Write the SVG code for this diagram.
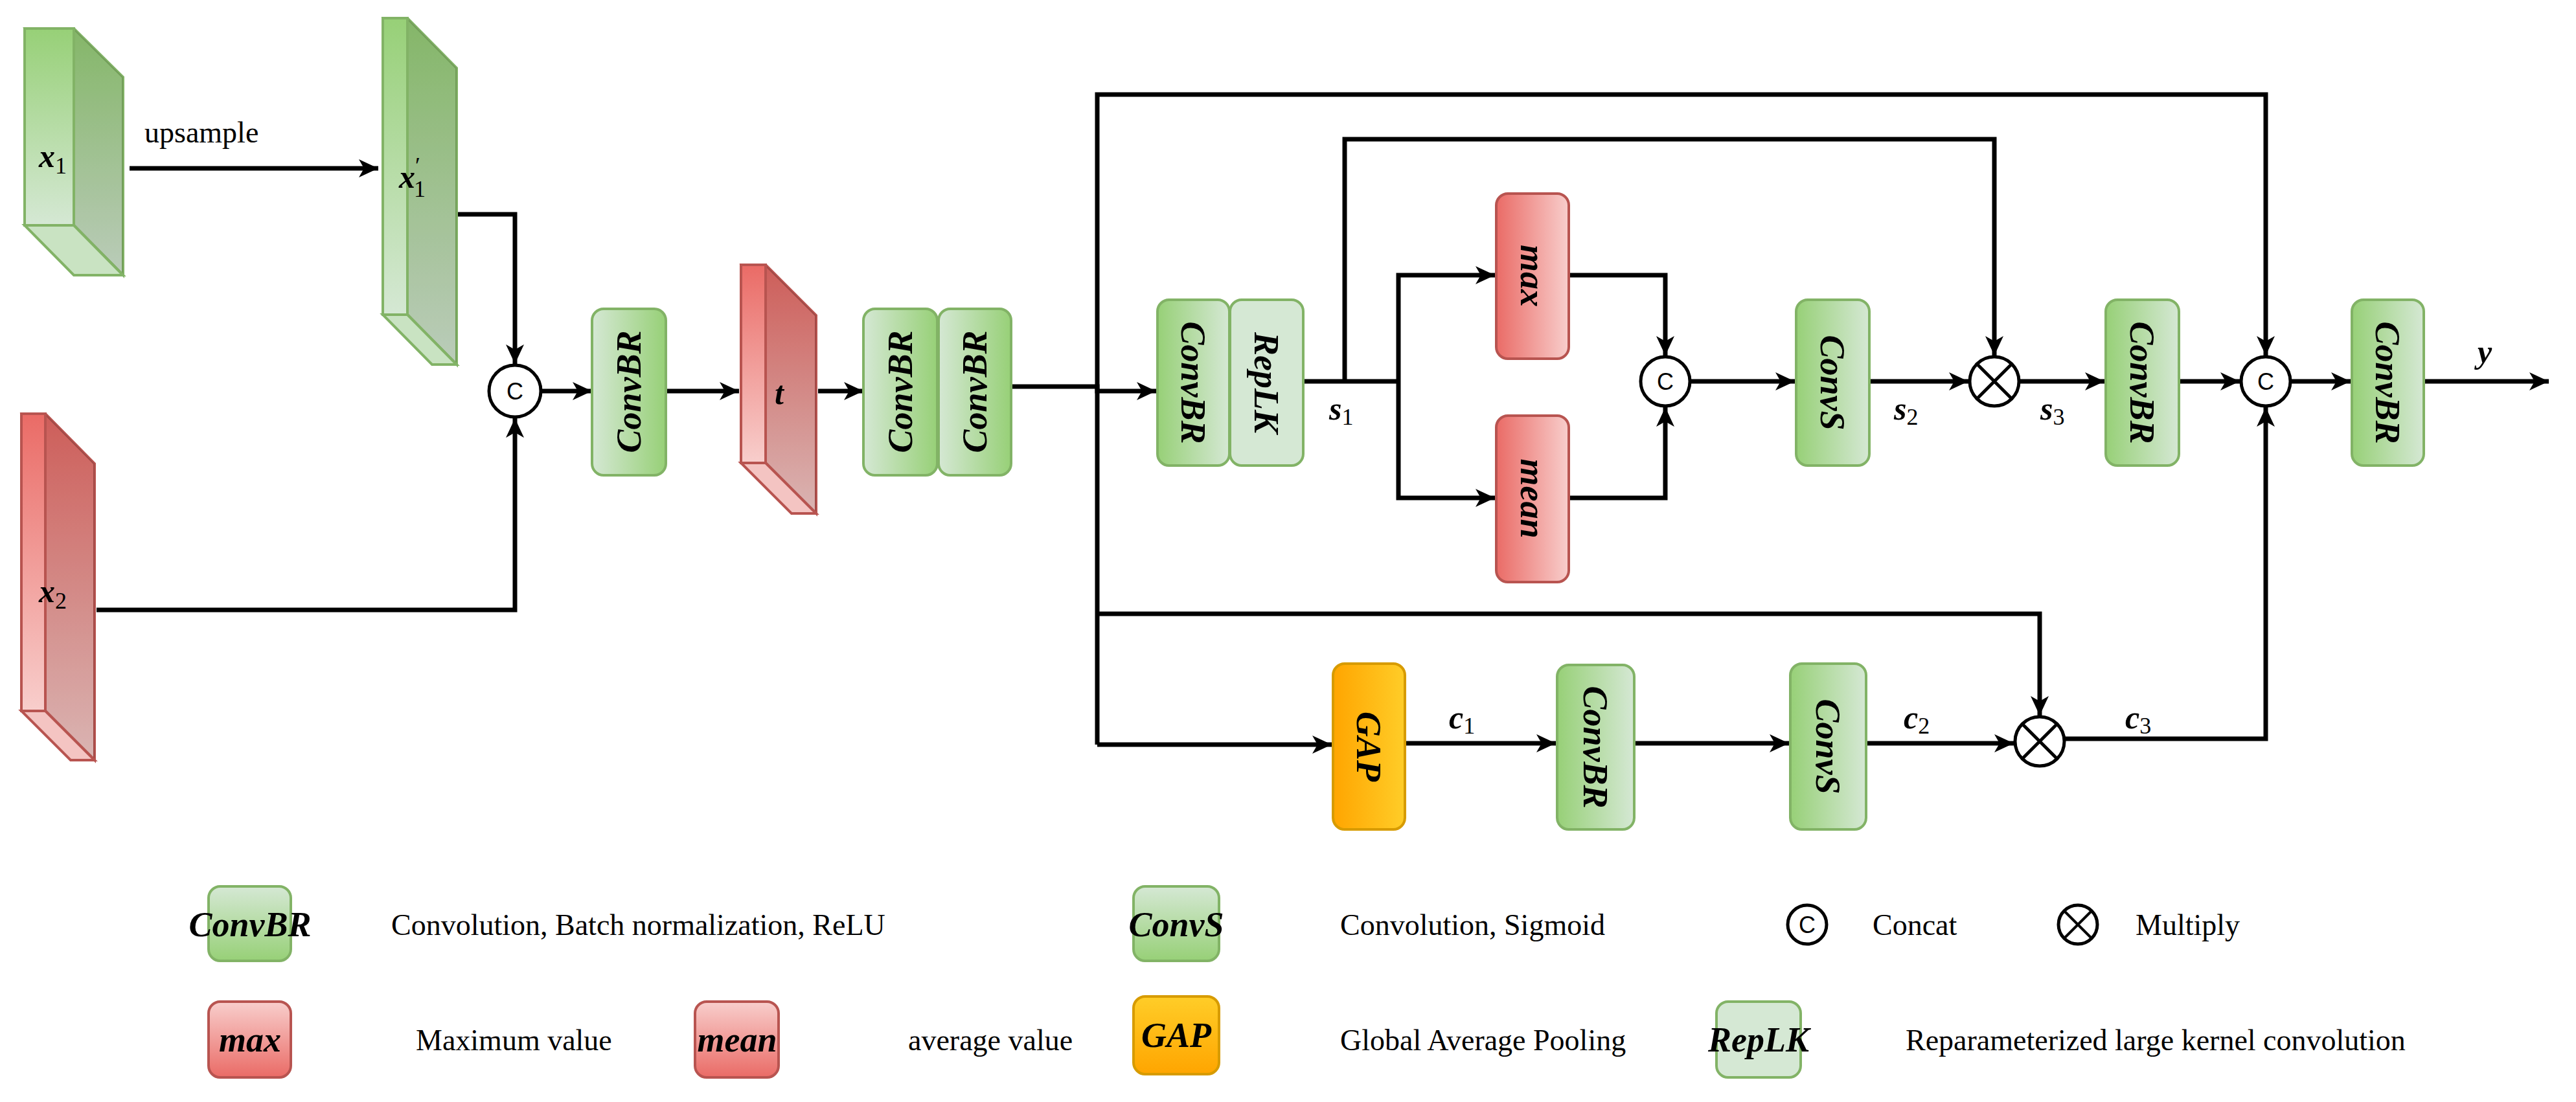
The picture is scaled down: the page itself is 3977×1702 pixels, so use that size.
<svg xmlns="http://www.w3.org/2000/svg" width="3977" height="1702" viewBox="0 0 3977 1702">
<defs>
<linearGradient id="gH1" x1="0" y1="0" x2="1" y2="0"><stop offset="0" stop-color="#d5e8d4"/><stop offset="1" stop-color="#97d077"/></linearGradient>
<linearGradient id="gH2" x1="0" y1="0" x2="1" y2="0"><stop offset="0" stop-color="#97d077"/><stop offset="1" stop-color="#d5e8d4"/></linearGradient>
<linearGradient id="gV" x1="0" y1="0" x2="0" y2="1"><stop offset="0" stop-color="#d5e8d4"/><stop offset="1" stop-color="#97d077"/></linearGradient>
<linearGradient id="rH" x1="0" y1="0" x2="1" y2="0"><stop offset="0" stop-color="#ea6b66"/><stop offset="1" stop-color="#f8cecc"/></linearGradient>
<linearGradient id="rV" x1="0" y1="0" x2="0" y2="1"><stop offset="0" stop-color="#f8cecc"/><stop offset="1" stop-color="#ea6b66"/></linearGradient>
<linearGradient id="oH" x1="0" y1="0" x2="1" y2="0"><stop offset="0" stop-color="#ffa500"/><stop offset="1" stop-color="#ffcd28"/></linearGradient>
<linearGradient id="oV" x1="0" y1="0" x2="0" y2="1"><stop offset="0" stop-color="#ffcd28"/><stop offset="1" stop-color="#ffa500"/></linearGradient>
<linearGradient id="pg" x1="0" y1="0" x2="0" y2="1"><stop offset="0" stop-color="#97d077"/><stop offset="1" stop-color="#d5e8d4"/></linearGradient>
<linearGradient id="pr" x1="0" y1="0" x2="0" y2="1"><stop offset="0" stop-color="#ea6b66"/><stop offset="1" stop-color="#f8cecc"/></linearGradient>
<marker id="ar" markerUnits="userSpaceOnUse" markerWidth="32" markerHeight="28" refX="30" refY="14" orient="auto"><path d="M0,0 L30,14 L0,28 L8,14 Z" fill="#000"/></marker>
</defs>
<style>
.g{stroke:#82b366;stroke-width:4}
.r{stroke:#b85450;stroke-width:4}
.o{stroke:#d79b00;stroke-width:4}
.ln{fill:none;stroke:#000;stroke-width:7}
.ar{marker-end:url(#ar)}
.m{font-family:"Liberation Serif",serif;font-style:italic;font-weight:bold;font-size:54px;fill:#000}
.lbl{font-family:"Liberation Serif",serif;font-style:italic;font-weight:bold;font-size:50px;fill:#000}
.t{font-family:"Liberation Serif",serif;font-size:46px;fill:#000}
.cc{fill:#fff;stroke:#000;stroke-width:5}
.ct{font-family:"Liberation Sans",sans-serif;font-size:36px;fill:#000}
.dk{fill:#000;opacity:0.12}
</style>

<g id="x1"><path d="M38,44 L114,44 L190,119 L190,425 L114,348 Z" fill="url(#pg)" class="g"/><path d="M114,44 L190,119 L190,425 L114,348 Z" class="dk"/><path d="M38,348 L114,348 L190,425 L114,425 Z" fill="#c9e3c2" class="g"/><rect x="38" y="44" width="76" height="304" fill="url(#pg)" class="g"/><text class="lbl" x="60" y="258">x<tspan font-size="36" font-style="normal" font-weight="normal" dy="10">1</tspan></text></g>
<g id="x1p"><path d="M591,28 L629,28 L705,105 L705,563 L629,486 Z" fill="url(#pg)" class="g"/><path d="M629,28 L705,105 L705,563 L629,486 Z" class="dk"/><path d="M591,486 L629,486 L705,563 L667,563 Z" fill="#c9e3c2" class="g"/><rect x="591" y="28" width="38" height="458" fill="url(#pg)" class="g"/><text class="lbl" x="616" y="290">x<tspan font-size="36" font-style="normal" font-weight="normal" dy="-22">′</tspan><tspan font-size="36" font-style="normal" font-weight="normal" dx="-10" dy="36">1</tspan></text></g>
<g id="x2"><path d="M33,639 L70,639 L146,716 L146,1174 L70,1098 Z" fill="url(#pr)" class="r"/><path d="M70,639 L146,716 L146,1174 L70,1098 Z" class="dk"/><path d="M33,1098 L70,1098 L146,1174 L109,1174 Z" fill="#f4c4c2" class="r"/><rect x="33" y="639" width="37" height="459" fill="url(#pr)" class="r"/><text class="lbl" x="60" y="930">x<tspan font-size="36" font-style="normal" font-weight="normal" dy="10">2</tspan></text></g>
<g id="t"><path d="M1144,409 L1182,409 L1260,487 L1260,793 L1182,715 Z" fill="url(#pr)" class="r"/><path d="M1182,409 L1260,487 L1260,793 L1182,715 Z" class="dk"/><path d="M1144,715 L1182,715 L1260,793 L1222,793 Z" fill="#f4c4c2" class="r"/><rect x="1144" y="409" width="38" height="306" fill="url(#pr)" class="r"/><text class="lbl" x="1196" y="624">t</text></g>

<g id="connectors">
<path class="ln ar" d="M200,260 L584,260"/>
<path class="ln ar" d="M707,331 L795,331 L795,562"/>
<path class="ln ar" d="M149,942 L795,942 L795,646"/>
<path class="ln ar" d="M835,604 L914,604"/>
<path class="ln ar" d="M1028,604 L1141,604"/>
<path class="ln ar" d="M1263,604 L1333,604"/>
<path class="ln ar" d="M1561,597 L1694,597 L1694,604 L1785,604"/>
<path class="ln ar" d="M1694,597 L1694,146 L3498,146 L3498,549"/>
<path class="ln" d="M1694,597 L1694,1150"/>
<path class="ln ar" d="M1694,948 L3149,948 L3149,1105"/>
<path class="ln ar" d="M1694,1150 L2056,1150"/>
<path class="ln" d="M2012,589 L2159,589"/>
<path class="ln ar" d="M2076,589 L2076,215 L3079,215 L3079,549"/>
<path class="ln ar" d="M2159,589 L2159,425 L2308,425"/>
<path class="ln ar" d="M2159,589 L2159,769 L2308,769"/>
<path class="ln ar" d="M2422,425 L2571,425 L2571,549"/>
<path class="ln ar" d="M2422,769 L2571,769 L2571,629"/>
<path class="ln ar" d="M2609,589 L2771,589"/>
<path class="ln ar" d="M2886,589 L3039,589"/>
<path class="ln ar" d="M3117,589 L3249,589"/>
<path class="ln ar" d="M3364,589 L3458,589"/>
<path class="ln ar" d="M3536,589 L3629,589"/>
<path class="ln ar" d="M3742,589 L3935,589"/>
<path class="ln ar" d="M2169,1148 L2402,1148"/>
<path class="ln ar" d="M2523,1148 L2762,1148"/>
<path class="ln ar" d="M2881,1148 L3109,1148"/>
<path class="ln ar" d="M3187,1141 L3498,1141 L3498,629"/>
</g>

<g id="cat1"><circle class="cc" cx="795" cy="604" r="40"/><text class="ct" x="795" y="604" text-anchor="middle" dominant-baseline="central">C</text></g>
<g id="convbr1"><rect x="914" y="477" width="114" height="257" rx="18" fill="url(#gH1)" class="g"/><text class="m" transform="rotate(-90 971 605)" x="971" y="605" text-anchor="middle" dominant-baseline="central">ConvBR</text></g>
<g id="convbr2a"><rect x="1333" y="477" width="114" height="257" rx="18" fill="url(#gH1)" class="g"/><text class="m" transform="rotate(-90 1390 605)" x="1390" y="605" text-anchor="middle" dominant-baseline="central">ConvBR</text></g>
<g id="convbr2b"><rect x="1449" y="477" width="112" height="257" rx="18" fill="url(#gH1)" class="g"/><text class="m" transform="rotate(-90 1505 605)" x="1505" y="605" text-anchor="middle" dominant-baseline="central">ConvBR</text></g>
<g id="convbr3"><rect x="1787" y="463" width="111" height="256" rx="18" fill="url(#gH2)" class="g"/><text class="m" transform="rotate(90 1842 591)" x="1842" y="591" text-anchor="middle" dominant-baseline="central">ConvBR</text></g>
<g id="replk"><rect x="1899" y="463" width="113" height="256" rx="18" fill="#d5e8d4" class="g"/><text class="m" transform="rotate(90 1955 591)" x="1955" y="591" text-anchor="middle" dominant-baseline="central">RepLK</text></g>
<g id="max"><rect x="2310" y="299" width="112" height="255" rx="18" fill="url(#rH)" class="r"/><text class="m" transform="rotate(90 2366 426)" x="2366" y="426" text-anchor="middle" dominant-baseline="central">max</text></g>
<g id="mean"><rect x="2310" y="642" width="112" height="257" rx="18" fill="url(#rH)" class="r"/><text class="m" transform="rotate(90 2366 770)" x="2366" y="770" text-anchor="middle" dominant-baseline="central">mean</text></g>
<g id="cat2"><circle class="cc" cx="2571" cy="589" r="38"/><text class="ct" x="2571" y="589" text-anchor="middle" dominant-baseline="central">C</text></g>
<g id="convs1"><rect x="2773" y="463" width="113" height="256" rx="18" fill="url(#gH2)" class="g"/><text class="m" transform="rotate(90 2829 591)" x="2829" y="591" text-anchor="middle" dominant-baseline="central">ConvS</text></g>
<g id="mul1"><circle class="cc" cx="3079" cy="589" r="38"/><path d="M3052,562 L3106,616 M3106,562 L3052,616" stroke="#000" stroke-width="5"/></g>
<g id="convbr4"><rect x="3251" y="463" width="113" height="256" rx="18" fill="url(#gH2)" class="g"/><text class="m" transform="rotate(90 3307 591)" x="3307" y="591" text-anchor="middle" dominant-baseline="central">ConvBR</text></g>
<g id="cat3"><circle class="cc" cx="3498" cy="589" r="38"/><text class="ct" x="3498" y="589" text-anchor="middle" dominant-baseline="central">C</text></g>
<g id="convbr5"><rect x="3631" y="463" width="111" height="256" rx="18" fill="url(#gH2)" class="g"/><text class="m" transform="rotate(90 3686 591)" x="3686" y="591" text-anchor="middle" dominant-baseline="central">ConvBR</text></g>
<g id="gap"><rect x="2058" y="1025" width="111" height="256" rx="18" fill="url(#oH)" class="o"/><text class="m" transform="rotate(90 2113 1153)" x="2113" y="1153" text-anchor="middle" dominant-baseline="central">GAP</text></g>
<g id="convbr6"><rect x="2404" y="1027" width="119" height="254" rx="18" fill="url(#gH2)" class="g"/><text class="m" transform="rotate(90 2463 1154)" x="2463" y="1154" text-anchor="middle" dominant-baseline="central">ConvBR</text></g>
<g id="convs2"><rect x="2764" y="1025" width="117" height="256" rx="18" fill="url(#gH2)" class="g"/><text class="m" transform="rotate(90 2822 1153)" x="2822" y="1153" text-anchor="middle" dominant-baseline="central">ConvS</text></g>
<g id="mul2"><circle class="cc" cx="3149" cy="1145" r="38"/><path d="M3122,1118 L3176,1172 M3176,1118 L3122,1172" stroke="#000" stroke-width="5"/></g>

<g id="labels">
<text class="t" x="223" y="220" font-size="50">upsample</text>
<text class="lbl" x="2052" y="648">s<tspan font-size="36" font-style="normal" font-weight="normal" dy="8">1</tspan></text>
<text class="lbl" x="2924" y="648">s<tspan font-size="36" font-style="normal" font-weight="normal" dy="8">2</tspan></text>
<text class="lbl" x="3150" y="648">s<tspan font-size="36" font-style="normal" font-weight="normal" dy="8">3</tspan></text>
<text class="lbl" x="3825" y="560">y</text>
<text class="lbl" x="2237" y="1125">c<tspan font-size="36" font-style="normal" font-weight="normal" dy="8">1</tspan></text>
<text class="lbl" x="2939" y="1125">c<tspan font-size="36" font-style="normal" font-weight="normal" dy="8">2</tspan></text>
<text class="lbl" x="3281" y="1125">c<tspan font-size="36" font-style="normal" font-weight="normal" dy="8">3</tspan></text>
</g>

<g id="legend">
<rect x="322" y="1369" width="127" height="115" rx="18" fill="url(#gV)" class="g"/><text class="m" x="386" y="1428" text-anchor="middle" dominant-baseline="central" font-size="46">ConvBR</text>
<text class="t" x="604" y="1444">Convolution, Batch normalization, ReLU</text>
<rect x="1750" y="1369" width="132" height="115" rx="18" fill="url(#gV)" class="g"/><text class="m" x="1816" y="1428" text-anchor="middle" dominant-baseline="central" font-size="46">ConvS</text>
<text class="t" x="2069" y="1444">Convolution, Sigmoid</text>
<circle class="cc" cx="2790" cy="1428" r="30" stroke-width="4"/><text class="ct" x="2790" y="1428" text-anchor="middle" dominant-baseline="central" font-size="30">C</text>
<text class="t" x="2891" y="1444">Concat</text>
<circle class="cc" cx="3208" cy="1428" r="30" stroke-width="4"/><path d="M3187,1407 L3229,1449 M3229,1407 L3187,1449" stroke="#000" stroke-width="4"/>
<text class="t" x="3297" y="1444" fill="#666">Multiply</text>
<rect x="322" y="1547" width="127" height="117" rx="18" fill="url(#rV)" class="r"/><text class="m" x="386" y="1606" text-anchor="middle" dominant-baseline="central" font-size="46">max</text>
<text class="t" x="642" y="1622">Maximum value</text>
<rect x="1073" y="1547" width="129" height="117" rx="18" fill="url(#rV)" class="r"/><text class="m" x="1138" y="1606" text-anchor="middle" dominant-baseline="central" font-size="46">mean</text>
<text class="t" x="1402" y="1622">average value</text>
<rect x="1750" y="1539" width="132" height="120" rx="18" fill="url(#oV)" class="o"/><text class="m" x="1816" y="1599" text-anchor="middle" dominant-baseline="central" font-size="46">GAP</text>
<text class="t" x="2069" y="1622">Global Average Pooling</text>
<rect x="2650" y="1547" width="130" height="117" rx="18" fill="#d5e8d4" class="g"/><text class="m" x="2715" y="1606" text-anchor="middle" dominant-baseline="central" font-size="46">RepLK</text>
<text class="t" x="2942" y="1622">Reparameterized large kernel convolution</text>
</g>
</svg>
